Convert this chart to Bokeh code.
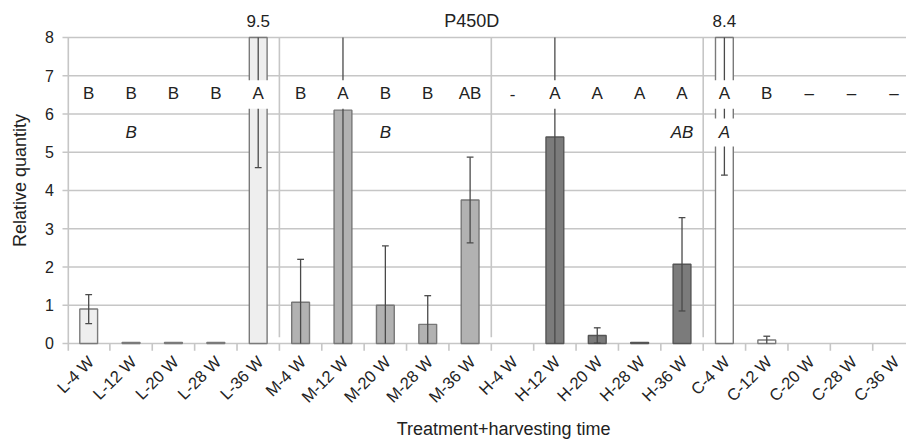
import math
from bokeh.plotting import figure
from bokeh.models import Range1d
from bokeh.core.properties import value
from bokeh.embed import file_html
from bokeh.resources import INLINE

categories = ["L-4 W", "L-12 W", "L-20 W", "L-28 W", "L-36 W",
              "M-4 W", "M-12 W", "M-20 W", "M-28 W", "M-36 W",
              "H-4 W", "H-12 W", "H-20 W", "H-28 W", "H-36 W",
              "C-4 W", "C-12 W", "C-20 W", "C-28 W", "C-36 W"]
values = [0.9, 0.03, 0.03, 0.03, 9.5,
          1.08, 6.1, 1.0, 0.5, 3.75,
          0.0, 5.4, 0.21, 0.03, 2.07,
          8.4, 0.09, 0.0, 0.0, 0.0]
errors = [0.38, 0.0, 0.0, 0.0, 4.9,
          1.12, 6.5, 1.55, 0.75, 1.12,
          0.0, 6.5, 0.2, 0.0, 1.22,
          4.0, 0.1, 0.0, 0.0, 0.0]
letters = ["B", "B", "B", "B", "A",
           "B", "A", "B", "B", "AB",
           "-", "A", "A", "A", "A",
           "A", "B", "\u2013", "\u2013", "\u2013"]
italic_cats = ["L-12 W", "M-20 W", "H-36 W", "C-4 W"]
italic_letters = ["B", "B", "AB", "A"]
y_ticks = [0, 1, 2, 3, 4, 5, 6, 7, 8]
gene_title = "P450D"
x_title = "Treatment+harvesting time"
y_title = "Relative quantity"

Y_MAX = 8
FONT = "Liberation Sans"
TXT = "#222222"
GRID = "#c6c6c6"
fill_by_group = {"L": "#eeeeee", "M": "#b2b2b2", "H": "#7b7b7b", "C": "#ffffff"}
line_by_group = {"L": "#7a7a7a", "M": "#777777", "H": "#555555", "C": "#7a7a7a"}

xs = list(range(len(categories)))
X0, X1 = -2.081, 19.297   # data span of the whole canvas
Y0, Y1 = -2.510, 8.967

# the frame fills the whole canvas; axes are drawn as glyphs
p = figure(width=906, height=439,
           x_range=Range1d(X0, X1), y_range=Range1d(Y0, Y1),
           output_backend="svg", toolbar_location=None, min_border=0)
p.outline_line_color = None
p.background_fill_color = "white"
p.border_fill_color = "white"
p.xgrid.grid_line_color = None
p.ygrid.grid_line_color = None
p.xaxis.visible = False
p.yaxis.visible = False

px_unit = 1.0 / 42.38
left = -0.5 + 0.8 * px_unit
tick_out = -0.5 - 5 * px_unit

# horizontal gridlines (with outward ticks) and y tick labels
p.segment(x0=[tick_out] * len(y_ticks), y0=y_ticks, x1=[X1] * len(y_ticks), y1=y_ticks,
          line_color=GRID, line_width=1.6)
p.text(x=[-0.5 - 13.5 * px_unit] * len(y_ticks), y=y_ticks, text=[str(t) for t in y_ticks],
       text_align="right", text_baseline="middle",
       text_font=value(FONT), text_font_size="16px", text_color=TXT)
p.text(x=[-0.5 - 48 * px_unit], y=[4.26], text=[y_title], angle=math.pi / 2,
       text_align="center", text_baseline="middle",
       text_font=value(FONT), text_font_size="18px", text_color=TXT)

# left boundary line and category tick marks
p.segment(x0=[left], y0=[-0.19], x1=[left], y1=[Y_MAX], line_color=GRID, line_width=1.6)
bounds = [i + 0.5 for i in xs[:-1]]
p.segment(x0=bounds, y0=[0] * len(bounds), x1=bounds, y1=[-0.19] * len(bounds),
          line_color=GRID, line_width=1.6)

# category labels (rotated) and x title
p.text(x=[x + 0.05 for x in xs], y=[-0.40] * len(xs), text=categories, angle=math.pi / 4,
       text_align="right", text_baseline="middle",
       text_font=value(FONT), text_font_size="16.5px", text_color=TXT)
p.text(x=[9.79], y=[-2.235], text=[x_title], text_align="center", text_baseline="middle",
       text_font=value(FONT), text_font_size="18px", text_color=TXT)

# group separators
sep = [i - 0.5 for i in xs[1:] if categories[i][0] != categories[i - 1][0]]
p.segment(x0=sep, y0=[0.16] * len(sep), x1=sep, y1=[Y_MAX] * len(sep),
          line_color=GRID, line_width=1.6)

# bars
bx, btop, bfill, bline = [], [], [], []
for x, c, v in zip(xs, categories, values):
    if v > 0:
        bx.append(x)
        btop.append(min(v, Y_MAX))
        bfill.append(fill_by_group[c[0]])
        bline.append(line_by_group[c[0]])
p.vbar(x=bx, top=btop, bottom=0, width=0.42, fill_color=bfill, line_color=bline, line_width=1.4)

# error bars
ex, elo, ehi, capx, capy = [], [], [], [], []
for x, v, e in zip(xs, values, errors):
    if e > 0:
        ex.append(x)
        elo.append(max(v - e, 0))
        ehi.append(min(v + e, Y_MAX))
        if v + e <= Y_MAX:
            capx.append(x); capy.append(v + e)
        if v - e >= 0:
            capx.append(x); capy.append(v - e)
p.segment(x0=ex, y0=elo, x1=ex, y1=ehi, line_color="#4a4a4a", line_width=1.3)
p.segment(x0=[x - 0.08 for x in capx], y0=capy, x1=[x + 0.08 for x in capx], y1=capy,
          line_color="#4a4a4a", line_width=1.3)

# significance letters (white band behind them)
p.rect(x=xs, y=[6.51] * len(xs), width=0.62, height=0.74, fill_color="white", line_color=None)
p.text(x=xs, y=[6.53] * len(xs), text=letters, text_align="center", text_baseline="middle",
       text_font=value(FONT), text_font_size="17px", text_color=TXT)

ix = [categories.index(c) for c in italic_cats]
p.rect(x=ix, y=[5.515] * len(ix), width=0.62, height=0.73, fill_color="white", line_color=None)
p.text(x=ix, y=[5.52] * len(ix), text=italic_letters, text_align="center", text_baseline="middle",
       text_font=value(FONT), text_font_size="17px", text_font_style="italic", text_color=TXT)

# values of broken bars + gene name
tx = [x for x, v in zip(xs, values) if v > Y_MAX]
tt = [str(v) for v in values if v > Y_MAX]
p.text(x=tx, y=[8.42] * len(tx), text=tt, text_align="center", text_baseline="middle",
       text_font=value(FONT), text_font_size="17px", text_color=TXT)
p.text(x=[9.04], y=[8.42], text=[gene_title], text_align="center", text_baseline="middle",
       text_font=value(FONT), text_font_size="18px", text_color=TXT)

open("out.html", "w").write(file_html(p, INLINE))
